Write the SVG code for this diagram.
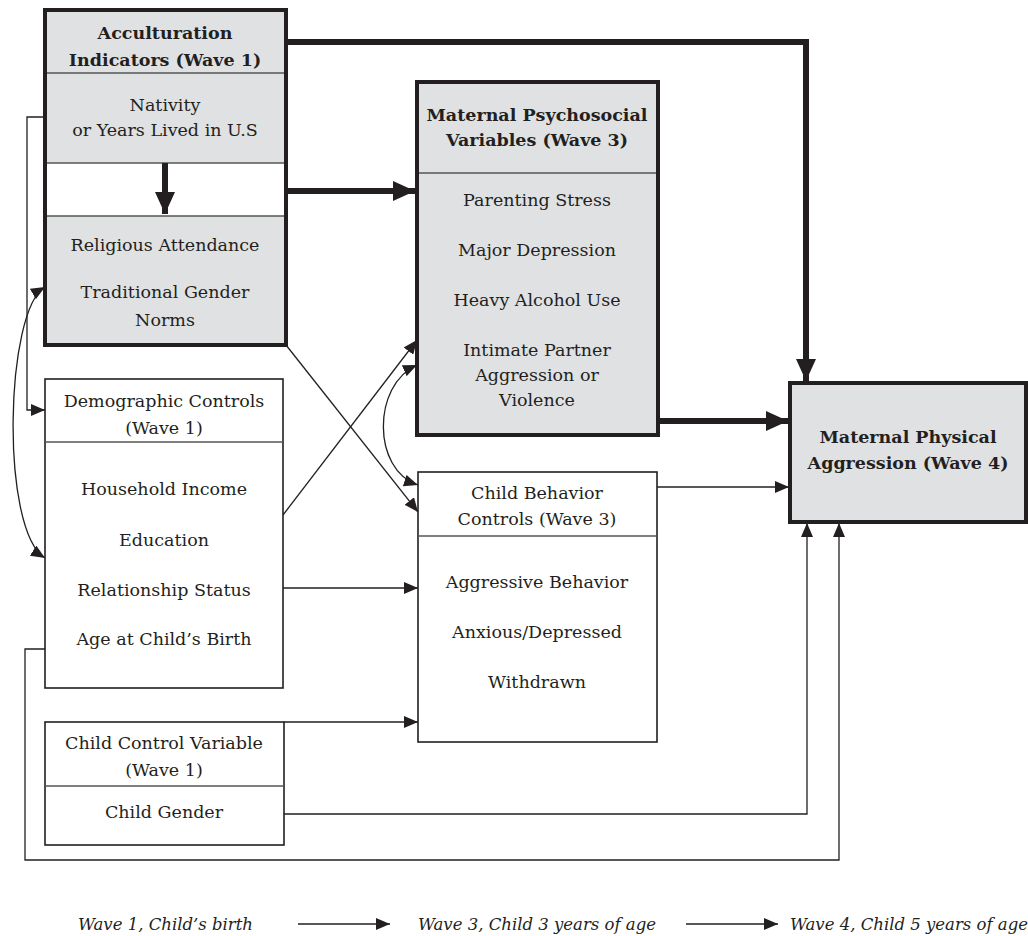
<svg xmlns="http://www.w3.org/2000/svg" width="1028" height="936" viewBox="0 0 1028 936">
<style>
.bg{fill:#ffffff}
.thickbox{fill:#e0e1e3;stroke:#231f20;stroke-width:4}
.thinbox{fill:#ffffff;stroke:#231f20;stroke-width:1.6}
.div{stroke:#555;stroke-width:1.4;fill:none}
.t{font-family:"DejaVu Serif","Liberation Serif",serif;font-size:17.5px;fill:#231f20;text-anchor:middle}
.b{font-family:"DejaVu Serif","Liberation Serif",serif;font-size:17.5px;font-weight:bold;fill:#231f20;text-anchor:middle}
.lg{font-family:"DejaVu Serif","Liberation Serif",serif;font-size:16.5px;font-style:italic;fill:#231f20}
.thk{stroke:#231f20;stroke-width:6;fill:none}
.thn{stroke:#231f20;stroke-width:1.3;fill:none}
</style>
<defs>
<marker id="ahT" markerUnits="userSpaceOnUse" markerWidth="22" markerHeight="20" refX="22" refY="10" orient="auto"><path d="M0,0 L22,10 L0,20 z" fill="#231f20"/></marker>
<marker id="ah" markerUnits="userSpaceOnUse" markerWidth="14" markerHeight="12" refX="14" refY="6" orient="auto-start-reverse"><path d="M0,0 L14,6 L0,12 z" fill="#231f20"/></marker>
</defs>
<rect class="bg" x="0" y="0" width="1028" height="936"/>

<g id="connectors">
<path class="thk" d="M286,42 H806 V381" marker-end="url(#ahT)"/>
<path class="thk" d="M286,191 H415" marker-end="url(#ahT)"/>
<path class="thk" d="M658,421 H788" marker-end="url(#ahT)"/>
<path class="thn" d="M45,117 H27 V410 H45" marker-end="url(#ah)"/>
<path class="thn" d="M45,287 C5,310 0,530 45,558" marker-start="url(#ah)" marker-end="url(#ah)"/>
<path class="thn" d="M286,345 L418,512" marker-end="url(#ah)"/>
<path class="thn" d="M283,515 L417,340" marker-end="url(#ah)"/>
<path class="thn" d="M417,365 C372,385 372,470 418,485" marker-start="url(#ah)" marker-end="url(#ah)"/>
<path class="thn" d="M283,588 H418" marker-end="url(#ah)"/>
<path class="thn" d="M284,722 H418" marker-end="url(#ah)"/>
<path class="thn" d="M655,487 H789" marker-end="url(#ah)"/>
<path class="thn" d="M284,814 H807 V523" marker-end="url(#ah)"/>
<path class="thn" d="M45,649 H25 V860 H839 V523" marker-end="url(#ah)"/>
<path class="thn" d="M298,924 H390" marker-end="url(#ah)"/>
<path class="thn" d="M686,924 H778" marker-end="url(#ah)"/>
</g>

<g id="acculturation">
<rect class="thickbox" x="45" y="10" width="241" height="335"/>
<rect x="47" y="163" width="237" height="53" fill="#ffffff"/>
<line class="div" x1="47" y1="73" x2="284" y2="73"/>
<line class="div" x1="47" y1="163" x2="284" y2="163"/>
<line class="div" x1="47" y1="216" x2="284" y2="216"/>
<text class="b" x="165" y="39">Acculturation</text>
<text class="b" x="165" y="66">Indicators (Wave 1)</text>
<text class="t" x="165" y="111">Nativity</text>
<text class="t" x="165" y="136">or Years Lived in U.S</text>
<path class="thk" d="M165,163 V214" marker-end="url(#ahT)"/>
<text class="t" x="165" y="251">Religious Attendance</text>
<text class="t" x="165" y="298">Traditional Gender</text>
<text class="t" x="165" y="326">Norms</text>
</g>

<g id="psychosocial">
<rect class="thickbox" x="417" y="82" width="241" height="353"/>
<line class="div" x1="419" y1="173" x2="656" y2="173"/>
<text class="b" x="537" y="121">Maternal Psychosocial</text>
<text class="b" x="537" y="146">Variables (Wave 3)</text>
<text class="t" x="537" y="206">Parenting Stress</text>
<text class="t" x="537" y="256">Major Depression</text>
<text class="t" x="537" y="306">Heavy Alcohol Use</text>
<text class="t" x="537" y="356">Intimate Partner</text>
<text class="t" x="537" y="381">Aggression or</text>
<text class="t" x="537" y="406">Violence</text>
</g>

<g id="physical">
<rect class="thickbox" x="790" y="383" width="236" height="139"/>
<text class="b" x="908" y="443">Maternal Physical</text>
<text class="b" x="908" y="469">Aggression (Wave 4)</text>
</g>

<g id="demographic">
<rect class="thinbox" x="45" y="379" width="238" height="309"/>
<line class="div" x1="45" y1="442" x2="283" y2="442"/>
<text class="t" x="164" y="407">Demographic Controls</text>
<text class="t" x="164" y="434">(Wave 1)</text>
<text class="t" x="164" y="495">Household Income</text>
<text class="t" x="164" y="546">Education</text>
<text class="t" x="164" y="596">Relationship Status</text>
<text class="t" x="164" y="645">Age at Child’s Birth</text>
</g>

<g id="childbehavior">
<rect class="thinbox" x="418" y="472" width="239" height="270"/>
<line class="div" x1="418" y1="536" x2="657" y2="536"/>
<text class="t" x="537" y="499">Child Behavior</text>
<text class="t" x="537" y="525">Controls (Wave 3)</text>
<text class="t" x="537" y="588">Aggressive Behavior</text>
<text class="t" x="537" y="638">Anxious/Depressed</text>
<text class="t" x="537" y="688">Withdrawn</text>
</g>

<g id="childcontrol">
<rect class="thinbox" x="45" y="722" width="239" height="123"/>
<line class="div" x1="45" y1="786" x2="284" y2="786"/>
<text class="t" x="164" y="749">Child Control Variable</text>
<text class="t" x="164" y="776">(Wave 1)</text>
<text class="t" x="164" y="818">Child Gender</text>
</g>

<g id="legend">
<text class="lg" x="253" y="930" text-anchor="end">Wave 1, Child’s birth</text>
<text class="lg" x="418" y="930">Wave 3, Child 3 years of age</text>
<text class="lg" x="790" y="930">Wave 4, Child 5 years of age</text>
</g>
</svg>
